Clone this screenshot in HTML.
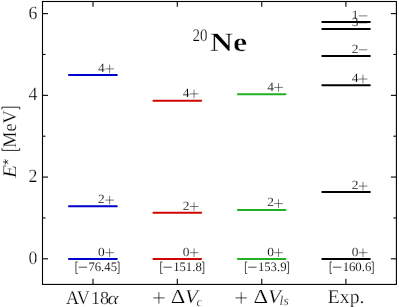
<!DOCTYPE html>
<html><head><meta charset="utf-8"><title>20Ne spectrum</title>
<style>html,body{margin:0;padding:0;background:#fff;}body{width:399px;height:307px;overflow:hidden;}svg{display:block;will-change:transform;}text{font-family:"Liberation Serif",serif;fill:#000;stroke:#fff;stroke-width:0.25px;text-rendering:geometricPrecision;}text.s{stroke-width:0.1px;}text.l{stroke-width:0.14px;}</style>
</head><body>
<svg width="399" height="307" viewBox="0 0 399 307">
<rect x="0" y="0" width="399" height="307" fill="#ffffff"/>
<text class="l" x="98.10" y="255.50" font-size="12.5" textLength="6.7" lengthAdjust="spacingAndGlyphs">0</text>
<line x1="105.30" y1="252.70" x2="114.00" y2="252.70" stroke="#111" stroke-width="0.55"/>
<line x1="109.60" y1="248.40" x2="109.60" y2="257.00" stroke="#111" stroke-width="0.55"/>
<text class="l" x="98.10" y="202.90" font-size="12.5" textLength="6.7" lengthAdjust="spacingAndGlyphs">2</text>
<line x1="105.30" y1="200.10" x2="114.00" y2="200.10" stroke="#111" stroke-width="0.55"/>
<line x1="109.60" y1="195.80" x2="109.60" y2="204.40" stroke="#111" stroke-width="0.55"/>
<text class="l" x="98.10" y="71.70" font-size="12.5" textLength="6.7" lengthAdjust="spacingAndGlyphs">4</text>
<line x1="105.30" y1="68.90" x2="114.00" y2="68.90" stroke="#111" stroke-width="0.55"/>
<line x1="109.60" y1="64.60" x2="109.60" y2="73.20" stroke="#111" stroke-width="0.55"/>
<line x1="69.00" y1="258.90" x2="116.80" y2="258.90" stroke="#0000cc" stroke-width="2.00" stroke-linecap="round"/>
<line x1="69.00" y1="206.30" x2="116.80" y2="206.30" stroke="#0000cc" stroke-width="2.00" stroke-linecap="round"/>
<line x1="69.00" y1="75.10" x2="116.80" y2="75.10" stroke="#0000cc" stroke-width="2.00" stroke-linecap="round"/>
<path d="M77.70 261.90H75.90V273.50H77.70" fill="none" stroke="#111" stroke-width="0.75"/>
<line x1="78.70" y1="267.20" x2="87.10" y2="267.20" stroke="#111" stroke-width="0.75"/>
<text class="s" x="88.40" y="270.90" font-size="12.9" textLength="28.6" lengthAdjust="spacingAndGlyphs">76.45</text>
<path d="M117.25 261.90H119.05V273.50H117.25" fill="none" stroke="#111" stroke-width="0.75"/>
<text class="l" x="182.68" y="255.50" font-size="12.5" textLength="6.7" lengthAdjust="spacingAndGlyphs">0</text>
<line x1="189.76" y1="252.70" x2="198.46" y2="252.70" stroke="#111" stroke-width="0.55"/>
<line x1="194.06" y1="248.40" x2="194.06" y2="257.00" stroke="#111" stroke-width="0.55"/>
<text class="l" x="182.68" y="209.55" font-size="12.5" textLength="6.7" lengthAdjust="spacingAndGlyphs">2</text>
<line x1="189.76" y1="206.50" x2="198.46" y2="206.50" stroke="#111" stroke-width="0.55"/>
<line x1="194.06" y1="202.20" x2="194.06" y2="210.80" stroke="#111" stroke-width="0.55"/>
<text class="l" x="182.68" y="97.30" font-size="12.5" textLength="6.7" lengthAdjust="spacingAndGlyphs">4</text>
<line x1="189.76" y1="93.90" x2="198.46" y2="93.90" stroke="#111" stroke-width="0.55"/>
<line x1="194.06" y1="89.60" x2="194.06" y2="98.20" stroke="#111" stroke-width="0.55"/>
<line x1="153.43" y1="258.90" x2="201.13" y2="258.90" stroke="#cf0505" stroke-width="2.00" stroke-linecap="round"/>
<line x1="153.43" y1="212.70" x2="201.13" y2="212.70" stroke="#cf0505" stroke-width="2.00" stroke-linecap="round"/>
<line x1="153.43" y1="100.85" x2="201.13" y2="100.85" stroke="#cf0505" stroke-width="2.00" stroke-linecap="round"/>
<path d="M162.45 261.90H160.65V273.50H162.45" fill="none" stroke="#111" stroke-width="0.75"/>
<line x1="163.45" y1="267.20" x2="171.85" y2="267.20" stroke="#111" stroke-width="0.75"/>
<text class="s" x="173.15" y="270.90" font-size="12.9" textLength="28.6" lengthAdjust="spacingAndGlyphs">151.8</text>
<path d="M202.00 261.90H203.80V273.50H202.00" fill="none" stroke="#111" stroke-width="0.75"/>
<text class="l" x="267.26" y="255.50" font-size="12.5" textLength="6.7" lengthAdjust="spacingAndGlyphs">0</text>
<line x1="274.22" y1="252.70" x2="282.92" y2="252.70" stroke="#111" stroke-width="0.55"/>
<line x1="278.52" y1="248.40" x2="278.52" y2="257.00" stroke="#111" stroke-width="0.55"/>
<text class="l" x="267.26" y="206.40" font-size="12.5" textLength="6.7" lengthAdjust="spacingAndGlyphs">2</text>
<line x1="274.22" y1="203.60" x2="282.92" y2="203.60" stroke="#111" stroke-width="0.55"/>
<line x1="278.52" y1="199.30" x2="278.52" y2="207.90" stroke="#111" stroke-width="0.55"/>
<text class="l" x="267.26" y="90.80" font-size="12.5" textLength="6.7" lengthAdjust="spacingAndGlyphs">4</text>
<line x1="274.22" y1="87.40" x2="282.92" y2="87.40" stroke="#111" stroke-width="0.55"/>
<line x1="278.52" y1="83.10" x2="278.52" y2="91.70" stroke="#111" stroke-width="0.55"/>
<line x1="237.86" y1="258.90" x2="285.46" y2="258.90" stroke="#22b122" stroke-width="2.00" stroke-linecap="round"/>
<line x1="237.86" y1="209.90" x2="285.46" y2="209.90" stroke="#22b122" stroke-width="2.00" stroke-linecap="round"/>
<line x1="237.86" y1="94.20" x2="285.46" y2="94.20" stroke="#22b122" stroke-width="2.00" stroke-linecap="round"/>
<path d="M247.20 261.90H245.40V273.50H247.20" fill="none" stroke="#111" stroke-width="0.75"/>
<line x1="248.20" y1="267.20" x2="256.60" y2="267.20" stroke="#111" stroke-width="0.75"/>
<text class="s" x="257.90" y="270.90" font-size="12.9" textLength="28.6" lengthAdjust="spacingAndGlyphs">153.9</text>
<path d="M286.75 261.90H288.55V273.50H286.75" fill="none" stroke="#111" stroke-width="0.75"/>
<text class="l" x="351.84" y="255.50" font-size="12.5" textLength="6.7" lengthAdjust="spacingAndGlyphs">0</text>
<line x1="358.68" y1="252.70" x2="367.38" y2="252.70" stroke="#111" stroke-width="0.55"/>
<line x1="362.98" y1="248.40" x2="362.98" y2="257.00" stroke="#111" stroke-width="0.55"/>
<text class="l" x="351.84" y="188.90" font-size="12.5" textLength="6.7" lengthAdjust="spacingAndGlyphs">2</text>
<line x1="358.68" y1="186.10" x2="367.38" y2="186.10" stroke="#111" stroke-width="0.55"/>
<line x1="362.98" y1="181.80" x2="362.98" y2="190.40" stroke="#111" stroke-width="0.55"/>
<text class="l" x="351.84" y="82.20" font-size="12.5" textLength="6.7" lengthAdjust="spacingAndGlyphs">4</text>
<line x1="358.68" y1="79.00" x2="367.38" y2="79.00" stroke="#111" stroke-width="0.55"/>
<line x1="362.98" y1="74.70" x2="362.98" y2="83.30" stroke="#111" stroke-width="0.55"/>
<text class="l" x="351.84" y="52.60" font-size="12.5" textLength="6.7" lengthAdjust="spacingAndGlyphs">2</text>
<line x1="358.68" y1="49.80" x2="367.38" y2="49.80" stroke="#111" stroke-width="0.55"/>
<text class="l" x="351.84" y="25.70" font-size="12.5" textLength="6.7" lengthAdjust="spacingAndGlyphs">3</text>
<line x1="358.68" y1="22.90" x2="367.38" y2="22.90" stroke="#111" stroke-width="0.55"/>
<text class="l" x="351.84" y="18.70" font-size="12.5" textLength="6.7" lengthAdjust="spacingAndGlyphs">1</text>
<line x1="358.68" y1="15.90" x2="367.38" y2="15.90" stroke="#111" stroke-width="0.55"/>
<line x1="322.29" y1="258.90" x2="369.79" y2="258.90" stroke="#000000" stroke-width="2.00" stroke-linecap="round"/>
<line x1="322.29" y1="192.10" x2="369.79" y2="192.10" stroke="#000000" stroke-width="2.00" stroke-linecap="round"/>
<line x1="322.29" y1="85.35" x2="369.79" y2="85.35" stroke="#000000" stroke-width="2.00" stroke-linecap="round"/>
<line x1="322.29" y1="56.00" x2="369.79" y2="56.00" stroke="#000000" stroke-width="2.00" stroke-linecap="round"/>
<line x1="322.29" y1="29.10" x2="369.79" y2="29.10" stroke="#000000" stroke-width="2.00" stroke-linecap="round"/>
<line x1="322.29" y1="22.10" x2="369.79" y2="22.10" stroke="#000000" stroke-width="2.00" stroke-linecap="round"/>
<path d="M331.95 261.90H330.15V273.50H331.95" fill="none" stroke="#111" stroke-width="0.75"/>
<line x1="332.95" y1="267.20" x2="341.35" y2="267.20" stroke="#111" stroke-width="0.75"/>
<text class="s" x="342.65" y="270.90" font-size="12.9" textLength="28.6" lengthAdjust="spacingAndGlyphs">160.6</text>
<path d="M371.50 261.90H373.30V273.50H371.50" fill="none" stroke="#111" stroke-width="0.75"/>
<rect x="42.50" y="1.50" width="353.90" height="282.92" fill="none" stroke="#000" stroke-width="1.10"/>
<line x1="42.50" y1="258.80" x2="48.00" y2="258.80" stroke="#000" stroke-width="1.10"/>
<line x1="396.40" y1="258.80" x2="390.90" y2="258.80" stroke="#000" stroke-width="1.10"/>
<text x="28.50" y="264.20" font-size="18.7" textLength="8.9" lengthAdjust="spacingAndGlyphs">0</text>
<line x1="42.50" y1="217.94" x2="45.50" y2="217.94" stroke="#000" stroke-width="1.10"/>
<line x1="396.40" y1="217.94" x2="393.40" y2="217.94" stroke="#000" stroke-width="1.10"/>
<line x1="42.50" y1="177.07" x2="48.00" y2="177.07" stroke="#000" stroke-width="1.10"/>
<line x1="396.40" y1="177.07" x2="390.90" y2="177.07" stroke="#000" stroke-width="1.10"/>
<text x="28.50" y="181.70" font-size="18.7" textLength="8.9" lengthAdjust="spacingAndGlyphs">2</text>
<line x1="42.50" y1="136.21" x2="45.50" y2="136.21" stroke="#000" stroke-width="1.10"/>
<line x1="396.40" y1="136.21" x2="393.40" y2="136.21" stroke="#000" stroke-width="1.10"/>
<line x1="42.50" y1="95.35" x2="48.00" y2="95.35" stroke="#000" stroke-width="1.10"/>
<line x1="396.40" y1="95.35" x2="390.90" y2="95.35" stroke="#000" stroke-width="1.10"/>
<text x="28.50" y="100.10" font-size="18.7" textLength="8.9" lengthAdjust="spacingAndGlyphs">4</text>
<line x1="42.50" y1="54.48" x2="45.50" y2="54.48" stroke="#000" stroke-width="1.10"/>
<line x1="396.40" y1="54.48" x2="393.40" y2="54.48" stroke="#000" stroke-width="1.10"/>
<line x1="42.50" y1="13.62" x2="48.00" y2="13.62" stroke="#000" stroke-width="1.10"/>
<line x1="396.40" y1="13.62" x2="390.90" y2="13.62" stroke="#000" stroke-width="1.10"/>
<text x="28.50" y="18.70" font-size="18.7" textLength="8.9" lengthAdjust="spacingAndGlyphs">6</text>
<line x1="93.00" y1="1.50" x2="93.00" y2="6.80" stroke="#000" stroke-width="1.10"/>
<line x1="93.00" y1="284.42" x2="93.00" y2="278.82" stroke="#000" stroke-width="1.10"/>
<line x1="177.30" y1="1.50" x2="177.30" y2="6.80" stroke="#000" stroke-width="1.10"/>
<line x1="177.30" y1="284.42" x2="177.30" y2="278.82" stroke="#000" stroke-width="1.10"/>
<line x1="261.75" y1="1.50" x2="261.75" y2="6.80" stroke="#000" stroke-width="1.10"/>
<line x1="261.75" y1="284.42" x2="261.75" y2="278.82" stroke="#000" stroke-width="1.10"/>
<line x1="345.90" y1="1.50" x2="345.90" y2="6.80" stroke="#000" stroke-width="1.10"/>
<line x1="345.90" y1="284.42" x2="345.90" y2="278.82" stroke="#000" stroke-width="1.10"/>
<text x="66.0" y="303.6" font-size="19.4" textLength="23.7" lengthAdjust="spacingAndGlyphs">AV</text>
<text x="90.9" y="303.6" font-size="18.5" textLength="18.2" lengthAdjust="spacingAndGlyphs">18</text>
<text x="107.5" y="303.7" font-size="17.6" font-style="italic" textLength="11.0" lengthAdjust="spacingAndGlyphs">α</text>
<line x1="153.20" y1="297.90" x2="164.60" y2="297.90" stroke="#111" stroke-width="0.75"/>
<line x1="158.90" y1="292.20" x2="158.90" y2="303.60" stroke="#111" stroke-width="0.75"/>
<text x="170.7" y="303.0" font-size="19.8" textLength="14.6" lengthAdjust="spacingAndGlyphs">Δ</text>
<text x="185.0" y="303.0" font-size="19.8" font-style="italic" textLength="12.9" lengthAdjust="spacingAndGlyphs">V</text>
<text x="196.6" y="305.6" font-size="12.6" font-style="italic">c</text>
<line x1="235.50" y1="297.90" x2="246.90" y2="297.90" stroke="#111" stroke-width="0.75"/>
<line x1="241.20" y1="292.20" x2="241.20" y2="303.60" stroke="#111" stroke-width="0.75"/>
<text x="253.6" y="303.0" font-size="19.8" textLength="14.6" lengthAdjust="spacingAndGlyphs">Δ</text>
<text x="267.9" y="303.0" font-size="19.8" font-style="italic" textLength="12.9" lengthAdjust="spacingAndGlyphs">V</text>
<text x="279.6" y="305.3" font-size="13.2" font-style="italic" textLength="9.1" lengthAdjust="spacingAndGlyphs">ls</text>
<text x="327.8" y="302.7" font-size="19.4" textLength="36.6" lengthAdjust="spacingAndGlyphs">Exp.</text>
<text x="192.4" y="41.3" font-size="17.6" textLength="15.0" lengthAdjust="spacingAndGlyphs">20</text>
<text x="210.0" y="50.5" font-size="26.5" font-weight="bold" textLength="37.2" lengthAdjust="spacingAndGlyphs" style="stroke-width:0.45px">Ne</text>
<g transform="translate(16.4,177.9) rotate(-90)"><text x="0" y="0" font-size="19.4" font-style="italic" textLength="13.1" lengthAdjust="spacingAndGlyphs">E</text></g>
<path d="M5.90 162.00L3.00 162.00M5.90 162.00L5.00 159.24M5.90 162.00L8.25 160.30M5.90 162.00L8.25 163.70M5.90 162.00L5.00 164.76" fill="none" stroke="#111" stroke-width="0.8"/>
<g transform="translate(16.3,147.7) rotate(-90)"><text x="0" y="0" font-size="19.4" textLength="37.4" lengthAdjust="spacingAndGlyphs">MeV</text></g>
<path d="M1.9 148.4H1.9M1.9 148.2V150.4H19.7V148.2" fill="none" stroke="#111" stroke-width="0.9"/>
<path d="M1.9 109.4V107.2H19.7V109.4" fill="none" stroke="#111" stroke-width="0.9"/>
</svg>
</body></html>
